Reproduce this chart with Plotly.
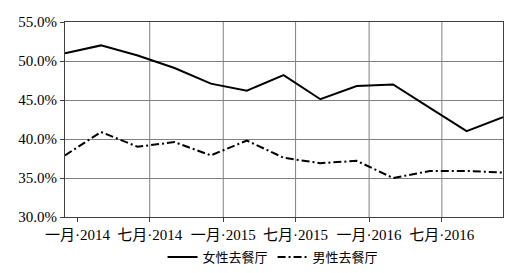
import plotly.graph_objects as go

dates = ["2013-12-01", "2014-03-01", "2014-06-01", "2014-09-01", "2014-12-01",
         "2015-03-01", "2015-06-01", "2015-09-01", "2015-12-01", "2016-03-01",
         "2016-06-01", "2016-09-01", "2016-12-01"]
female = [51.0, 52.0, 50.7, 49.1, 47.1, 46.2, 48.2, 45.1, 46.8, 47.0, 44.0, 41.0, 42.8]
male = [37.9, 40.9, 39.0, 39.6, 37.9, 39.8, 37.6, 36.9, 37.2, 35.0, 35.9, 35.9, 35.7]

tick_dates = ["2014-01-01", "2014-07-01", "2015-01-01", "2015-07-01", "2016-01-01", "2016-07-01"]
tick_labels = ["一月·2014", "七月·2014", "一月·2015", "七月·2015", "一月·2016", "七月·2016"]
y_ticks = [30, 35, 40, 45, 50, 55]

FONT = "Liberation Serif, Times New Roman, Noto Sans CJK SC, serif"
GRID = "#808080"

fig = go.Figure()
fig.add_trace(go.Scatter(x=dates, y=female, mode="lines", name="女性去餐厅",
                         line=dict(color="black", width=2)))
fig.add_trace(go.Scatter(x=dates, y=male, mode="lines", name="男性去餐厅",
                         line=dict(color="black", width=2, dash="8px,3px,2px,3px")))

for d in tick_dates[1:]:
    fig.add_shape(type="line", xref="x", yref="paper", x0=d, x1=d, y0=0, y1=1,
                  line=dict(color=GRID, width=1), layer="below")

fig.update_layout(
    width=532, height=273,
    margin=dict(l=65, r=29, t=22, b=56, autoexpand=False),
    paper_bgcolor="white", plot_bgcolor="white",
    font=dict(family=FONT, size=15, color="black"),
    showlegend=True,
    legend=dict(orientation="h", x=0.475, y=0.058, xref="paper", yref="container",
                xanchor="center", yanchor="middle",
                font=dict(size=13, family=FONT), itemwidth=30, tracegroupgap=0),
)
fig.update_xaxes(
    type="date", range=[dates[0], dates[-1]],
    tickmode="array", tickvals=tick_dates, ticktext=tick_labels,
    showgrid=False, showline=True, linecolor="#404040", linewidth=1, mirror=True,
    ticks="outside", ticklen=4, tickcolor="#404040",
    tickfont=dict(size=15, family=FONT), automargin=False,
)
fig.update_yaxes(
    range=[30, 55], tickmode="array", tickvals=y_ticks,
    ticktext=[f"{v:.1f}%" for v in y_ticks],
    showgrid=True, gridcolor=GRID, gridwidth=1,
    showline=True, linecolor="#404040", linewidth=1, mirror=True,
    ticks="outside", ticklen=4, tickcolor="#404040",
    tickfont=dict(size=15, family=FONT), zeroline=False, automargin=False,
)

fig.write_html("out.html")
